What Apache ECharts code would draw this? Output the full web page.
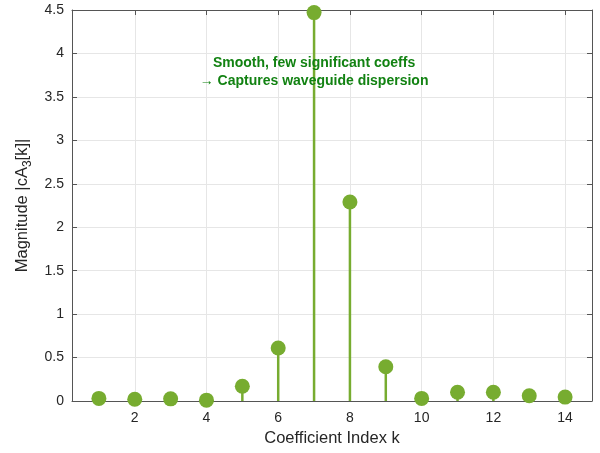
<!DOCTYPE html>
<html><head><meta charset="utf-8">
<script src="https://cdn.jsdelivr.net/npm/echarts@6/dist/echarts.min.js"></script>
<style>html,body{margin:0;padding:0;background:#fff}#c{width:600px;height:453px}</style>
</head><body><div id="c"></div>
<script>
const kIndex = [1,2,3,4,5,6,7,8,9,10,11,12,13,14];
const magnitude = [0.03,0.02,0.025,0.01,0.17,0.61,4.47,2.29,0.395,0.03,0.10,0.10,0.06,0.045];
const xTicks = [2,4,6,8,10,12,14];
const yTicks = [0,0.5,1,1.5,2,2.5,3,3.5,4,4.5];
const annotationLines = ['Smooth, few significant coeffs', '\u2192 Captures waveguide dispersion'];
const annotationAt = [7, 3.79];

const green = '#77AC30';
const font = "'Liberation Sans', Arial, Helvetica, sans-serif";
const axisCol = '#262626';
const pts = kIndex.map((k,i)=>[k, magnitude[i]]);

const chart = echarts.init(document.getElementById('c'), null, {renderer:'canvas'});
const xCommon = {type:'value', min:0.25, max:14.75, interval:2};
const yCommon = {type:'value', min:0, max:4.5, interval:0.5};
chart.setOption({
  animation:false,
  grid:{left:72, right:8, top:10, bottom:52, containLabel:false},
  xAxis:[
    {...xCommon, position:'bottom',
     name:'Coefficient Index k', nameLocation:'middle', nameGap:29,
     nameTextStyle:{fontFamily:font, fontSize:16.5, color:axisCol},
     axisLine:{show:true, onZero:false, lineStyle:{color:'#555', width:1}},
     axisTick:{show:true, inside:true, length:5, lineStyle:{color:'#555'},
       customValues:xTicks},
     axisLabel:{fontFamily:font, fontSize:14, color:axisCol, margin:10, customValues:xTicks},
     splitLine:{show:true, lineStyle:{color:'#e6e6e6'}}, showMinLabel:false, showMaxLabel:false},
    {...xCommon, position:'top',
     axisLine:{show:true, onZero:false, lineStyle:{color:'#555'}},
     axisTick:{show:true, inside:true, length:5, lineStyle:{color:'#555'}, customValues:xTicks},
     axisLabel:{show:false}, splitLine:{show:false}}
  ],
  yAxis:[
    {...yCommon, position:'left',
     name:'{a|Magnitude |cA}{s|3}{a|[k]|}', nameLocation:'middle', nameGap:38, nameRotate:90,
     nameTextStyle:{rich:{
       a:{fontFamily:font, fontSize:16.5, color:axisCol, lineHeight:20},
       s:{fontFamily:font, fontSize:12, color:axisCol, padding:[10,0,0,0], lineHeight:20}}},
     axisLine:{show:true, onZero:false, lineStyle:{color:'#555'}},
     axisTick:{show:true, inside:true, length:5, lineStyle:{color:'#555'}},
     axisLabel:{fontFamily:font, fontSize:14, color:axisCol, margin:8},
     splitLine:{show:true, lineStyle:{color:'#e6e6e6'}}},
    {...yCommon, position:'right',
     axisLine:{show:true, onZero:false, lineStyle:{color:'#555'}},
     axisTick:{show:true, inside:true, length:5, lineStyle:{color:'#555'}},
     axisLabel:{show:false}, splitLine:{show:false}}
  ],
  series:[
    {type:'custom', xAxisIndex:0, yAxisIndex:0, data:pts, z:2,
     renderItem:(params, api)=>{
       const top = api.coord([api.value(0), api.value(1)]);
       const base = api.coord([api.value(0), 0]);
       return {type:'line', shape:{x1:base[0], y1:base[1], x2:top[0], y2:top[1]},
         style:{stroke:green, lineWidth:2.5}};
     }},
    {type:'scatter', xAxisIndex:0, yAxisIndex:0, data:pts, symbol:'circle', symbolSize:15,
     itemStyle:{color:green, opacity:1}, z:3},
    {type:'scatter', xAxisIndex:0, yAxisIndex:0, data:[annotationAt], symbolSize:0, z:5,
     itemStyle:{opacity:1},
     label:{show:true, position:'inside', formatter:annotationLines.join('\n'),
       fontFamily:font, fontSize:14, fontWeight:'bold', color:'#128212', lineHeight:18, align:'center'}}
  ]
});
</script></body></html>
